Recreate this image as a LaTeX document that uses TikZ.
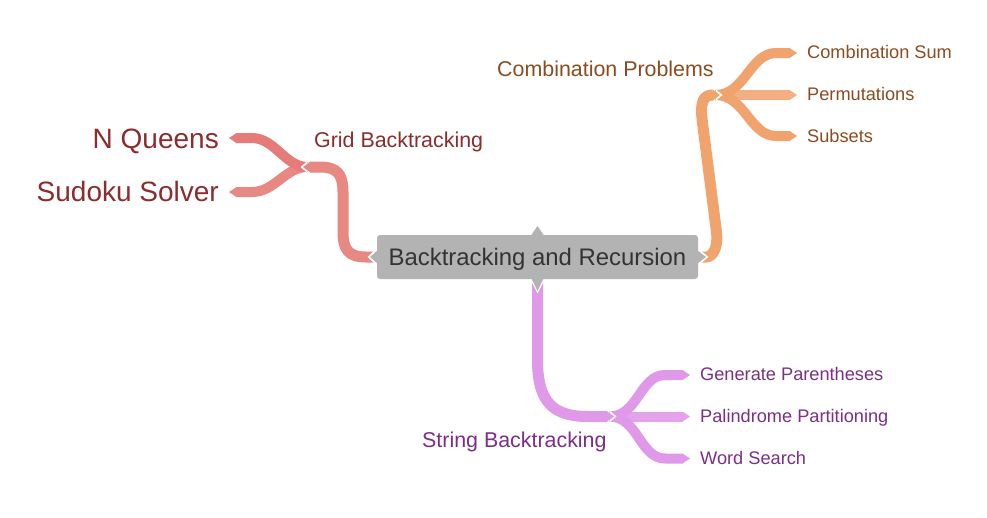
\documentclass[tikz,border=0pt]{standalone}
\usepackage{fontspec}
\setmainfont{Liberation Sans}
\usetikzlibrary{calc}
\definecolor{redrib}{RGB}{232,136,131}
\definecolor{redribA}{RGB}{229,124,121}
\definecolor{orangerib}{RGB}{240,163,108}
\definecolor{orangeribL}{RGB}{242,176,130}
\definecolor{purplerib}{RGB}{224,152,232}
\definecolor{purpleribL}{RGB}{227,162,235}
\definecolor{redtext}{RGB}{140,44,44}
\definecolor{orangetext}{RGB}{139,76,32}
\definecolor{purpletext}{RGB}{125,46,136}
\definecolor{boxgray}{RGB}{179,179,179}
\definecolor{roottext}{RGB}{51,51,51}
\tikzset{
  rib/.style={line width=#1, line cap=butt, line join=round},
  notch/.style={fill=white},
  labzero/.style={font=\fontsize{28}{32}\selectfont, inner sep=0pt},
  labone/.style={font=\fontsize{21.4}{25}\selectfont, inner sep=0pt},
  labtwo/.style={font=\fontsize{18.2}{22}\selectfont, inner sep=0pt},
  rootbox/.style={fill=boxgray, rounded corners=3pt, minimum width=321pt, minimum height=44pt,
    inner sep=0pt, text=roottext, font=\fontsize{23.9}{28}\selectfont, text height=17.1pt, text depth=0pt}
}
\begin{document}
\begin{tikzpicture}[x=1pt,y=-1pt]
\useasboundingbox (0,0) rectangle (987,517);
\fill[white] (0,0) rectangle (987,517);

% named junction coordinates
\coordinate (rJ) at (307.5,167);
\coordinate (oJ) at (715.5,95);
\coordinate (pJ) at (609.5,416.5);
\coordinate (nqE) at (236,138);
\coordinate (ssE) at (236,192);
\coordinate (csE) at (790,53);
\coordinate (pmE) at (790,95);
\coordinate (suE) at (790,136);
\coordinate (gpE) at (683,375);
\coordinate (ppE) at (683,416.5);
\coordinate (wsE) at (683,458.5);

% ---------- red branch ----------
\draw[rib=10pt, redrib] (rJ) .. controls (285,167) and (275,192) .. ($(ssE)+(16,0)$) -- (ssE);
\fill[redrib] ($(ssE)+(0.5,-5)$) -- ($(ssE)+(-7,0)$) -- ($(ssE)+(0.5,5)$) -- cycle;
\draw[rib=10pt, redribA] (rJ) .. controls (285,167) and (275,138) .. ($(nqE)+(16,0)$) -- (nqE);
\fill[redribA] ($(nqE)+(0.5,-5)$) -- ($(nqE)+(-7,0)$) -- ($(nqE)+(0.5,5)$) -- cycle;
\fill[notch] ($(rJ)+(0,-6)$) -- ($(rJ)+(-7,0)$) -- ($(rJ)+(0,6)$) -- cycle;
\draw[rib=11pt, redrib] (374.5,257) -- (366,257) .. controls (348,257) and (343,249) .. (343,232)
  -- (343,192) .. controls (343,174) and (337,167) .. (320,167) -- ($(rJ)+(2.5,0)$);
\fill[redrib] ($(rJ)+(3,-5.5)$) -- ($(rJ)+(-4.5,0)$) -- ($(rJ)+(3,5.5)$) -- cycle;
\fill[notch] (374.5,250.5) -- (367.5,257) -- (374.5,263.5) -- cycle;

% ---------- orange branch ----------
\draw[rib=10pt, orangeribL] (oJ) -- (pmE);
\fill[orangeribL] ($(pmE)+(-0.5,-5)$) -- ($(pmE)+(7,0)$) -- ($(pmE)+(-0.5,5)$) -- cycle;
\draw[rib=10pt, orangerib] (oJ) .. controls (745,95) and (750,53) .. ($(csE)+(-14,0)$) -- (csE);
\fill[orangerib] ($(csE)+(-0.5,-5)$) -- ($(csE)+(7,0)$) -- ($(csE)+(-0.5,5)$) -- cycle;
\draw[rib=10pt, orangerib] (oJ) .. controls (745,95) and (750,136) .. ($(suE)+(-14,0)$) -- (suE);
\fill[orangerib] ($(suE)+(-0.5,-5)$) -- ($(suE)+(7,0)$) -- ($(suE)+(-0.5,5)$) -- cycle;
\fill[notch] ($(oJ)+(0,-6)$) -- ($(oJ)+(7,0)$) -- ($(oJ)+(0,6)$) -- cycle;
\draw[rib=11pt, orangerib] (700.5,257) -- (706,257) .. controls (714,257) and (718.2,245) .. (716.5,232)
  -- (702.5,123) .. controls (699.5,100) and (704,95) .. ($(oJ)+(-2.5,0)$);
\fill[orangerib] ($(oJ)+(-3,-5.5)$) -- ($(oJ)+(4.5,0)$) -- ($(oJ)+(-3,5.5)$) -- cycle;
\fill[notch] (700.5,250.5) -- (708.5,257) -- (700.5,263.5) -- cycle;

% ---------- purple branch ----------
\draw[rib=10pt, purpleribL] (pJ) -- (ppE);
\fill[purpleribL] ($(ppE)+(-0.5,-5)$) -- ($(ppE)+(7,0)$) -- ($(ppE)+(-0.5,5)$) -- cycle;
\draw[rib=10pt, purplerib] (pJ) .. controls (638,416.5) and (640,375) .. ($(gpE)+(-18,0)$) -- (gpE);
\fill[purplerib] ($(gpE)+(-0.5,-5)$) -- ($(gpE)+(7,0)$) -- ($(gpE)+(-0.5,5)$) -- cycle;
\draw[rib=10pt, purplerib] (pJ) .. controls (638,416.5) and (640,458.5) .. ($(wsE)+(-18,0)$) -- (wsE);
\fill[purplerib] ($(wsE)+(-0.5,-5)$) -- ($(wsE)+(7,0)$) -- ($(wsE)+(-0.5,5)$) -- cycle;
\fill[notch] ($(pJ)+(0,-6)$) -- ($(pJ)+(7,0)$) -- ($(pJ)+(0,6)$) -- cycle;
\draw[rib=11pt, purplerib] (537.5,281.5) -- (537.5,360) .. controls (537.5,402) and (553,416.5) .. (588,416.5)
  -- ($(pJ)+(-2.5,0)$);
\fill[purplerib] ($(pJ)+(-3,-5.5)$) -- ($(pJ)+(4.5,0)$) -- ($(pJ)+(-3,5.5)$) -- cycle;
\fill[notch] (531.5,281.5) -- (537.5,293.5) -- (543.5,281.5) -- cycle;

% ---------- root ----------
\node[rootbox] (root) at (537.5,257) {Backtracking and Recursion};
\fill[boxgray] (377.5,250.5) -- (370,257) -- (377.5,263.5) -- cycle;
\fill[boxgray] (697.5,250.5) -- (706,257) -- (697.5,263.5) -- cycle;
\fill[boxgray] (531,235.5) -- (537.5,226) -- (544,235.5) -- cycle;
\fill[boxgray] (531.5,278.5) -- (537.5,291) -- (543.5,278.5) -- cycle;

% ---------- labels ----------
\node[labzero, text=redtext, anchor=base east] (nq) at (219,148) {N Queens};
\node[labzero, text=redtext, anchor=base east] (ss) at (219,201.5) {Sudoku Solver};
\node[labone, text=redtext, anchor=base west] (gb) at (314,147) {Grid Backtracking};
\node[labone, text=orangetext, anchor=base west] (cp) at (497,76) {Combination Problems};
\node[labone, text=purpletext, anchor=base west] (sb) at (422,447) {String Backtracking};
\node[labtwo, text=orangetext, anchor=base west] (cs) at (807,58.5) {Combination Sum};
\node[labtwo, text=orangetext, anchor=base west] (pm) at (807,100.5) {Permutations};
\node[labtwo, text=orangetext, anchor=base west] (su) at (807,142.5) {Subsets};
\node[labtwo, text=purpletext, anchor=base west] (gp) at (700,380.5) {Generate Parentheses};
\node[labtwo, text=purpletext, anchor=base west] (pp) at (700,422.5) {Palindrome Partitioning};
\node[labtwo, text=purpletext, anchor=base west] (ws) at (700,464.5) {Word Search};
\end{tikzpicture}
\end{document}
